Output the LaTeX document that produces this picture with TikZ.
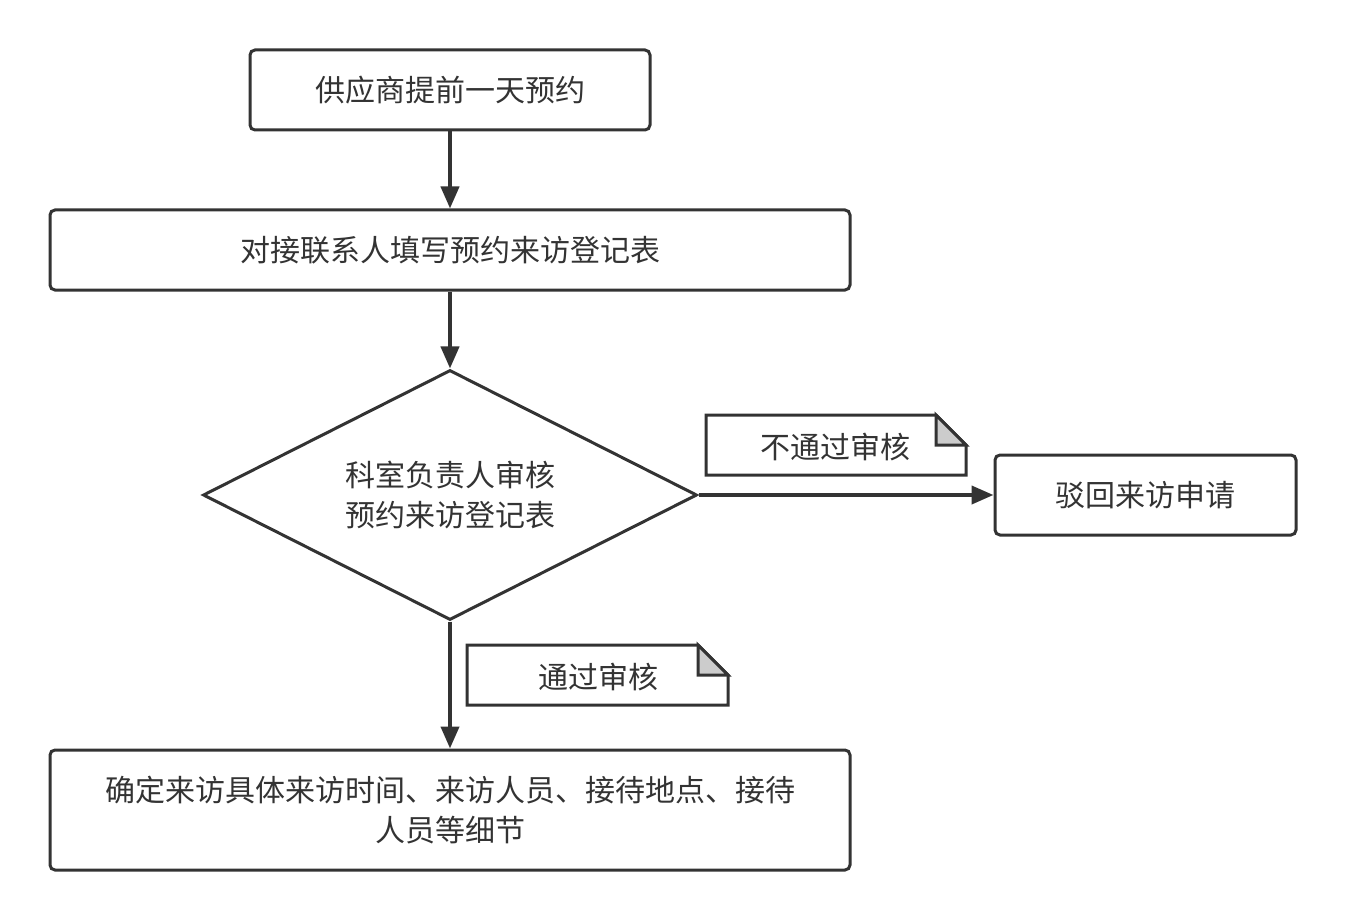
\documentclass[tikz,border=0pt]{standalone}
\usepackage{fontspec}
\setmainfont{Noto Sans CJK SC}
\usetikzlibrary{shapes.geometric,arrows.meta}

\begin{document}
\begin{tikzpicture}
[x=1pt,y=-1pt,>={Triangle[length=22pt,width=18pt]},
box/.style={draw=black!80,line width=3pt,rounded corners=5pt,align=center,
  font=\fontsize{30}{40}\selectfont,text=black!80,inner sep=0pt},
link/.style={draw=black!80,line width=4pt,->},
notetext/.style={font=\fontsize{30}{40}\selectfont,text=black!80},]

\useasboundingbox (0,0) rectangle (1346,920);

%Boxes
\node (req) at (450,90)[box,minimum width=400pt,minimum height=80pt] {供应商提前一天预约};
\node (fill) at (450,250)[box,minimum width=800pt,minimum height=80pt] {对接联系人填写预约来访登记表};
\node (check) at (450,495)[draw=black!80,line width=3pt,diamond,aspect=1.98,
  minimum width=494pt,minimum height=250pt,inner sep=0pt,align=center,
  font=\fontsize{30}{40}\selectfont,text=black!80] {科室负责人审核\\预约来访登记表};
\node (reject) at (1145.5,495)[box,minimum width=301pt,minimum height=80pt] {驳回来访申请};
\node (done) at (450,810)[box,minimum width=800pt,minimum height=120pt] {确定来访具体来访时间、来访人员、接待地点、接待\\人员等细节};

%Notes
\draw[black!80,line width=3pt,fill=white] (706,415) -- (936,415) -- (966,445) -- (966,475) -- (706,475) -- cycle;
\draw[black!80,line width=3pt,fill=black!20] (936,415) -- (936,445) -- (966,445) -- cycle;
\node (nopass) at (835,447)[notetext] {不通过审核};
\draw[black!80,line width=3pt,fill=white] (467,645) -- (698,645) -- (728,675) -- (728,705) -- (467,705) -- cycle;
\draw[black!80,line width=3pt,fill=black!20] (698,645) -- (698,675) -- (728,675) -- cycle;
\node (pass) at (598,677)[notetext] {通过审核};

%Arrows
\draw[link] (req) -- (fill);
\draw[link] (fill) -- (check);
\draw[link] (check) -- (reject);
\draw[link] (check) -- (done);

\end{tikzpicture}
\end{document}
